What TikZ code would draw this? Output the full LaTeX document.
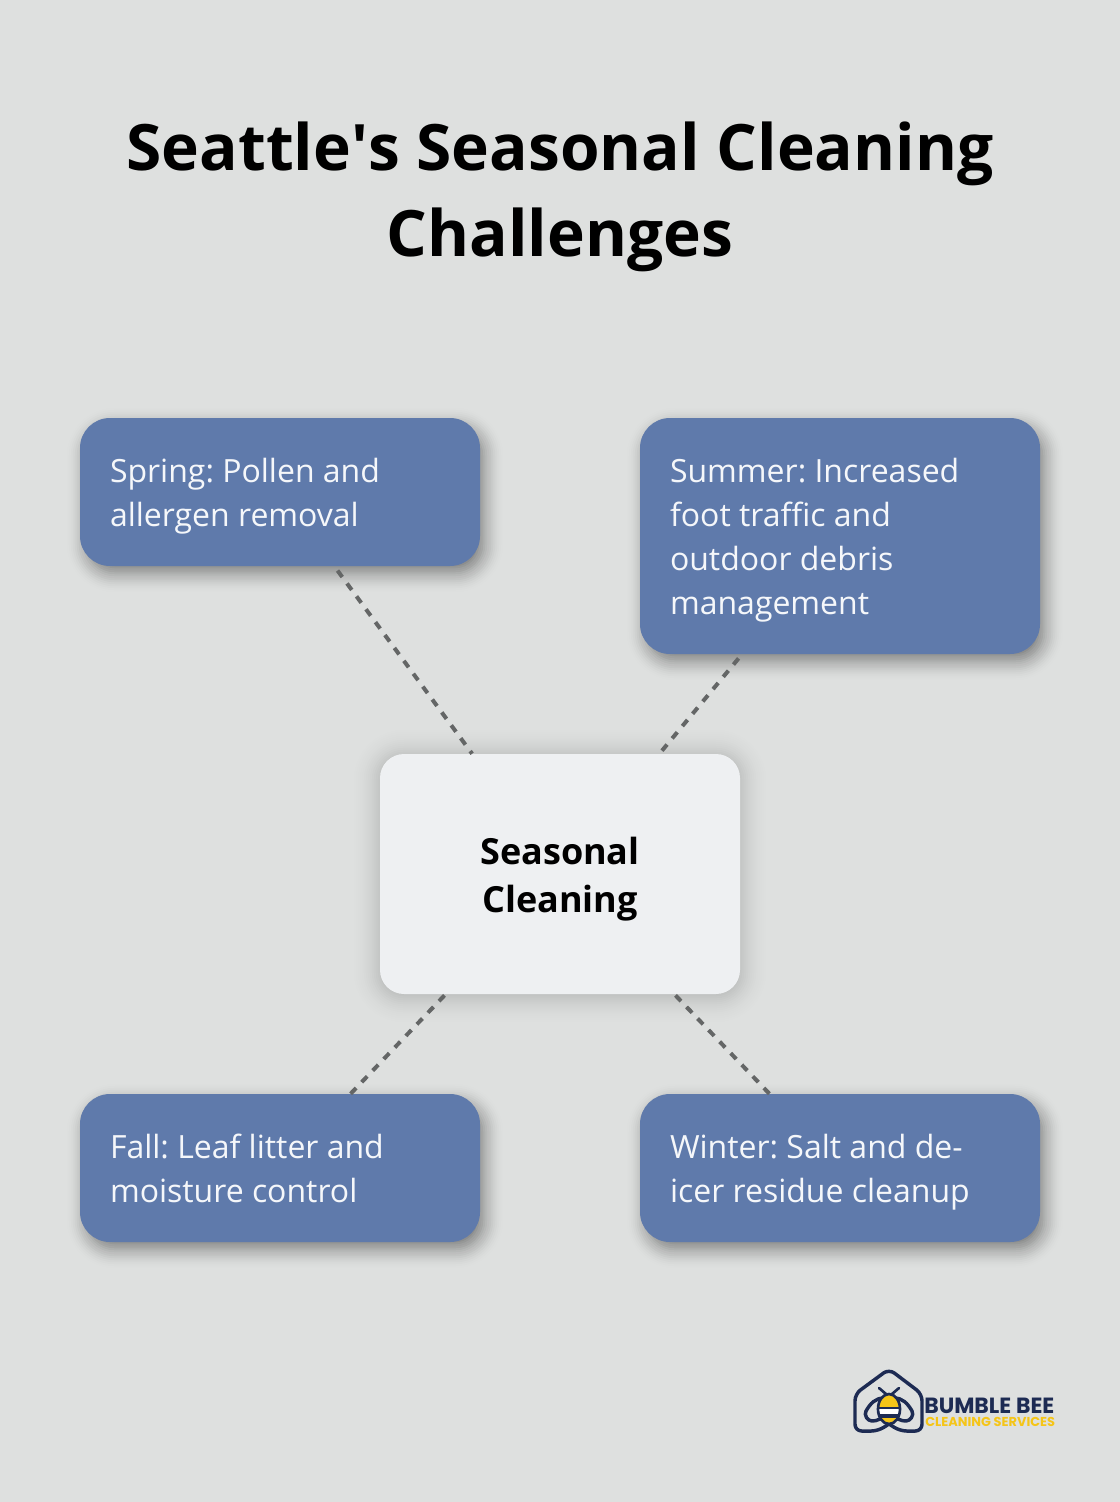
\documentclass[tikz,border=0pt]{standalone}
\usepackage{fontspec}
\setmainfont{Open Sans}
\newfontfamily\logofont{Poppins}
\frenchspacing
\usetikzlibrary{
  calc,         % Calculations $...$
  backgrounds,  % Predefined layer named "background"
}
\definecolor{mybg}{HTML}{DEE0DF}
\definecolor{myblue}{HTML}{5F7AAB}
\definecolor{mylight}{HTML}{EEF0F2}
\definecolor{mydash}{HTML}{646666}
\definecolor{mynavy}{HTML}{1D2B53}
\definecolor{myyellow}{HTML}{F5C518}
\def\mypx{0.75pt}
% node, radius, x offset, y offset, largest spread, opacity
\newcommand{\softshadow}[6]{%
  \foreach \s in {-12,-10,...,#5}{
    \pgfmathsetmacro{\rr}{max(#2+\s,2)*0.75}
    \pgfmathsetmacro{\oo}{2*#6*(#5+2-\s)/(#5+14)}
    \fill[black,opacity=\oo,rounded corners=\rr pt]
      ($(#1.south west)+(#3-\s,#4+\s)$) rectangle ($(#1.north east)+(#3+\s,#4-\s)$);
  }
}
\tikzset{
  font=\rmfamily,
  x=\mypx,
  y=-\mypx,
  my season/.style={
    fill=myblue,
    text=white!94!myblue,
    rounded corners=22.5pt,
    minimum width=300pt,
    inner xsep=22.5pt,
    inner ysep=0pt,
    text width=255pt,
    align=left,
    execute at begin node={\spaceskip=6.2pt\relax\rule{0pt}{24pt}},
    execute at end node={\rule[-6pt]{0pt}{6pt}},
    font=\fontsize{24}{33}\selectfont
  },
  my centre/.style={
    fill=mylight,
    text=black,
    rounded corners=18pt,
    minimum width=270pt,
    minimum height=180pt,
    inner xsep=0pt,
    text width=270pt,
    align=center,
    execute at begin node={\rule{0pt}{28pt}},
    font=\fontsize{27}{36}\selectfont\bfseries
  },
  my title/.style={
    align=center,
    text=black,
    font=\fontsize{48}{64}\selectfont\bfseries
  },
  my link/.style={
    draw=mydash,
    line width=3pt,
    dash pattern=on 6pt off 6pt
  },
  my logo/.style={
    draw=mynavy,
    line width=2.6pt,
    line join=round,
    line cap=round
  }
}
\begin{document}
\begin{tikzpicture}
\useasboundingbox (0,0) rectangle (1120,1502);
\node[my title] (title) at (560,197) {Seattle\textquotesingle s Seasonal Cleaning\\Challenges};
\node[my season,minimum height=111pt] (spring) at (280,492) {Spring: Pollen and\\allergen removal};
\node[my season,minimum height=177pt] (summer) at (840,536) {Summer: Increased\\foot traffic and\\outdoor debris\\management};
\node[my centre] (centre) at (560,874) {Seasonal\\Cleaning};
\node[my season,minimum height=111pt] (fall) at (280,1168) {Fall: Leaf litter and\\moisture control};
\node[my season,minimum height=111pt] (winter) at (840,1168) {Winter: Salt and de-\\icer residue cleanup};
\begin{scope}[on background layer]
  \fill[mybg] (0,0) rectangle (1120,1502);
  \softshadow{spring}{30}{5}{8}{18}{0.03}
  \softshadow{summer}{30}{5}{8}{18}{0.03}
  \softshadow{fall}{30}{5}{8}{18}{0.03}
  \softshadow{winter}{30}{5}{8}{18}{0.03}
  \softshadow{centre}{24}{0}{2}{30}{0.009}
\end{scope}
\path[my link]
  (spring) edge[shorten <=4pt] (centre)
  (summer) edge[shorten <=4pt,shorten >=3pt] (centre)
  (fall)   edge (centre)
  (winter) edge (centre);
% logo
\draw[my logo,rounded corners=5pt] (889,1424) -- (878,1431) -- (855,1431) -- (855,1394)
  -- (889,1369) -- (922,1394) -- (922,1431) -- (900,1431) -- (889,1424);
\draw[my logo,line width=2pt] (879,1388) -- (886,1394) (899,1388) -- (892,1394);
\draw[my logo] (884,1398) to[out=180,in=60] (866,1411) to[out=-120,in=180] (872,1421)
  to[out=0,in=-150] (885,1416);
\draw[my logo] (894,1398) to[out=0,in=120] (912,1411) to[out=-60,in=0] (906,1421)
  to[out=180,in=-30] (893,1416);
\begin{scope}
  \clip (889,1409) ellipse (11 and 15);
  \fill[myyellow] (876,1393) rectangle (902,1407);
  \fill[mynavy] (876,1407) rectangle (902,1409);
  \fill[white] (876,1409) rectangle (902,1414);
  \fill[mynavy] (876,1414) rectangle (902,1418);
  \fill[myyellow] (876,1418) rectangle (902,1425);
\end{scope}
\draw[mynavy,line width=2pt] (889,1409) ellipse (11 and 15);
\node[inner sep=0pt,anchor=west,text=mynavy,font=\logofont\fontsize{16.5}{18}\selectfont\bfseries] (logoname) at (924,1406) {BUMBLE BEE};
\node[inner sep=0pt,anchor=west,text=myyellow,font=\logofont\fontsize{9.7}{10}\selectfont\bfseries] (logotag) at (925,1421.5) {CLEANING SERVICES};
\end{tikzpicture}
\end{document}
